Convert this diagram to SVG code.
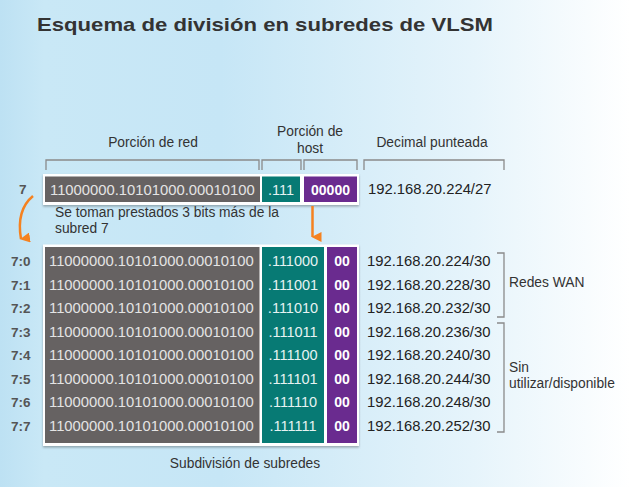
<svg xmlns="http://www.w3.org/2000/svg" width="630" height="487" viewBox="0 0 630 487">
<defs>
<linearGradient id="bg" x1="0" y1="0" x2="1" y2="0">
<stop offset="0" stop-color="#bde1f3"/>
<stop offset="0.07" stop-color="#c9e8f6"/>
<stop offset="0.35" stop-color="#c6e6f6"/>
<stop offset="0.75" stop-color="#e6f4fb"/>
<stop offset="1" stop-color="#ffffff"/>
</linearGradient>
<filter id="sh" x="-5%" y="-5%" width="110%" height="115%">
<feDropShadow dx="0" dy="1.5" stdDeviation="1.2" flood-color="#000" flood-opacity="0.3"/>
</filter>
<marker id="ah" viewBox="0 0 10 10" refX="5" refY="9" markerWidth="10" markerHeight="10" markerUnits="userSpaceOnUse" orient="auto-start-reverse">
<path d="M0,0 L10,0 L5,10 Z" fill="#f58220"/>
</marker>
</defs>
<style>
text{font-family:"Liberation Sans",Arial,sans-serif}
.lbl{font-size:13.8px;fill:#333}
.title{font-size:19px;font-weight:bold;fill:#333}
.bin{font-size:14.8px;fill:#e4e4e4}
.tl{font-size:14.5px;fill:#e6f3f2}
.pp{font-size:14px;font-weight:bold;fill:#ffffff}
.dd{font-size:14.8px;fill:#222}
.rl{font-size:13.5px;font-weight:bold;fill:#555}
.br{fill:none;stroke:#8a8a8a;stroke-width:1.3}
.gray{fill:#666262}
.teal{fill:#077a74}
.purple{fill:#6a2b8f}
.frame{fill:#ffffff}
.arr{fill:none;stroke:#f58220;stroke-width:2.5}
</style>
<rect width="630" height="487" fill="url(#bg)"/>
<text class="title" x="37" y="31" textLength="456" lengthAdjust="spacingAndGlyphs">Esquema de división en subredes de VLSM</text>

<g id="headers">
<text class="lbl" x="153" y="147" text-anchor="middle">Porción de red</text>
<text class="lbl" x="310" y="136" text-anchor="middle">Porción de</text>
<text class="lbl" x="310" y="153" text-anchor="middle">host</text>
<text class="lbl" x="432" y="147" text-anchor="middle">Decimal punteada</text>
<path class="br" d="M46,170 V160 H259 V170 M262,170 V160 H301 V170 M304,170 V160 H357 V170 M364,170 V160 H504 V170"/>
</g>

<g id="subnet7">
<text class="rl" x="19" y="194">7</text>
<rect class="frame" x="43" y="174" width="316" height="31" filter="url(#sh)"/>
<rect class="gray" x="45" y="176.5" width="215" height="25.5"/>
<rect class="teal" x="262" y="176.5" width="38" height="25.5"/>
<rect class="purple" x="304" y="176.5" width="53" height="25.5"/>
<text class="bin" x="50" y="194.5">11000000.10101000.00010100</text>
<text class="tl" x="281" y="194.5" text-anchor="middle">.111</text>
<text class="pp" x="330.5" y="194.5" text-anchor="middle">00000</text>
<text class="dd" x="368" y="194">192.168.20.224/27</text>
</g>

<g id="note">
<text class="lbl" x="55" y="217">Se toman prestados 3 bits más de la</text>
<text class="lbl" x="55" y="233">subred 7</text>
</g>

<g id="connectors">
<path class="arr" d="M33,196 Q16,210 21,239" marker-end="url(#ah)"/>
<path class="arr" d="M312.5,206 V237" marker-end="url(#ah)"/>
</g>

<g id="subdivision">
<rect class="frame" x="43" y="244.5" width="316" height="201.5" filter="url(#sh)"/>
<rect class="gray" x="45" y="247" width="214.5" height="196"/>
<rect class="teal" x="262" y="247" width="62" height="196"/>
<rect class="purple" x="327" y="247" width="30" height="196"/>
<g class="bin">
<text x="49" y="266">11000000.10101000.00010100</text>
<text x="49" y="289.6">11000000.10101000.00010100</text>
<text x="49" y="313.1">11000000.10101000.00010100</text>
<text x="49" y="336.7">11000000.10101000.00010100</text>
<text x="49" y="360.3">11000000.10101000.00010100</text>
<text x="49" y="383.9">11000000.10101000.00010100</text>
<text x="49" y="407.4">11000000.10101000.00010100</text>
<text x="49" y="431">11000000.10101000.00010100</text>
</g>
<g class="tl" text-anchor="middle">
<text x="293" y="266">.111000</text>
<text x="293" y="289.6">.111001</text>
<text x="293" y="313.1">.111010</text>
<text x="293" y="336.7">.111011</text>
<text x="293" y="360.3">.111100</text>
<text x="293" y="383.9">.111101</text>
<text x="293" y="407.4">.111110</text>
<text x="293" y="431">.111111</text>
</g>
<g class="pp" text-anchor="middle">
<text x="342" y="266">00</text>
<text x="342" y="289.6">00</text>
<text x="342" y="313.1">00</text>
<text x="342" y="336.7">00</text>
<text x="342" y="360.3">00</text>
<text x="342" y="383.9">00</text>
<text x="342" y="407.4">00</text>
<text x="342" y="431">00</text>
</g>
<g class="rl">
<text x="11" y="266">7:0</text>
<text x="11" y="289.6">7:1</text>
<text x="11" y="313.1">7:2</text>
<text x="11" y="336.7">7:3</text>
<text x="11" y="360.3">7:4</text>
<text x="11" y="383.9">7:5</text>
<text x="11" y="407.4">7:6</text>
<text x="11" y="431">7:7</text>
</g>
<g class="dd">
<text x="367" y="266">192.168.20.224/30</text>
<text x="367" y="289.6">192.168.20.228/30</text>
<text x="367" y="313.1">192.168.20.232/30</text>
<text x="367" y="336.7">192.168.20.236/30</text>
<text x="367" y="360.3">192.168.20.240/30</text>
<text x="367" y="383.9">192.168.20.244/30</text>
<text x="367" y="407.4">192.168.20.248/30</text>
<text x="367" y="431">192.168.20.252/30</text>
</g>
<text class="lbl" x="245" y="468" text-anchor="middle">Subdivisión de subredes</text>
</g>

<g id="wan">
<path class="br" d="M497,253 H504 V317 H497"/>
<text class="lbl" x="509" y="287">Redes WAN</text>
</g>
<g id="unused">
<path class="br" d="M497,323 H504 V432 H497"/>
<text class="lbl" x="509" y="372">Sin</text>
<text class="lbl" x="509" y="388">utilizar/disponible</text>
</g>
</svg>
